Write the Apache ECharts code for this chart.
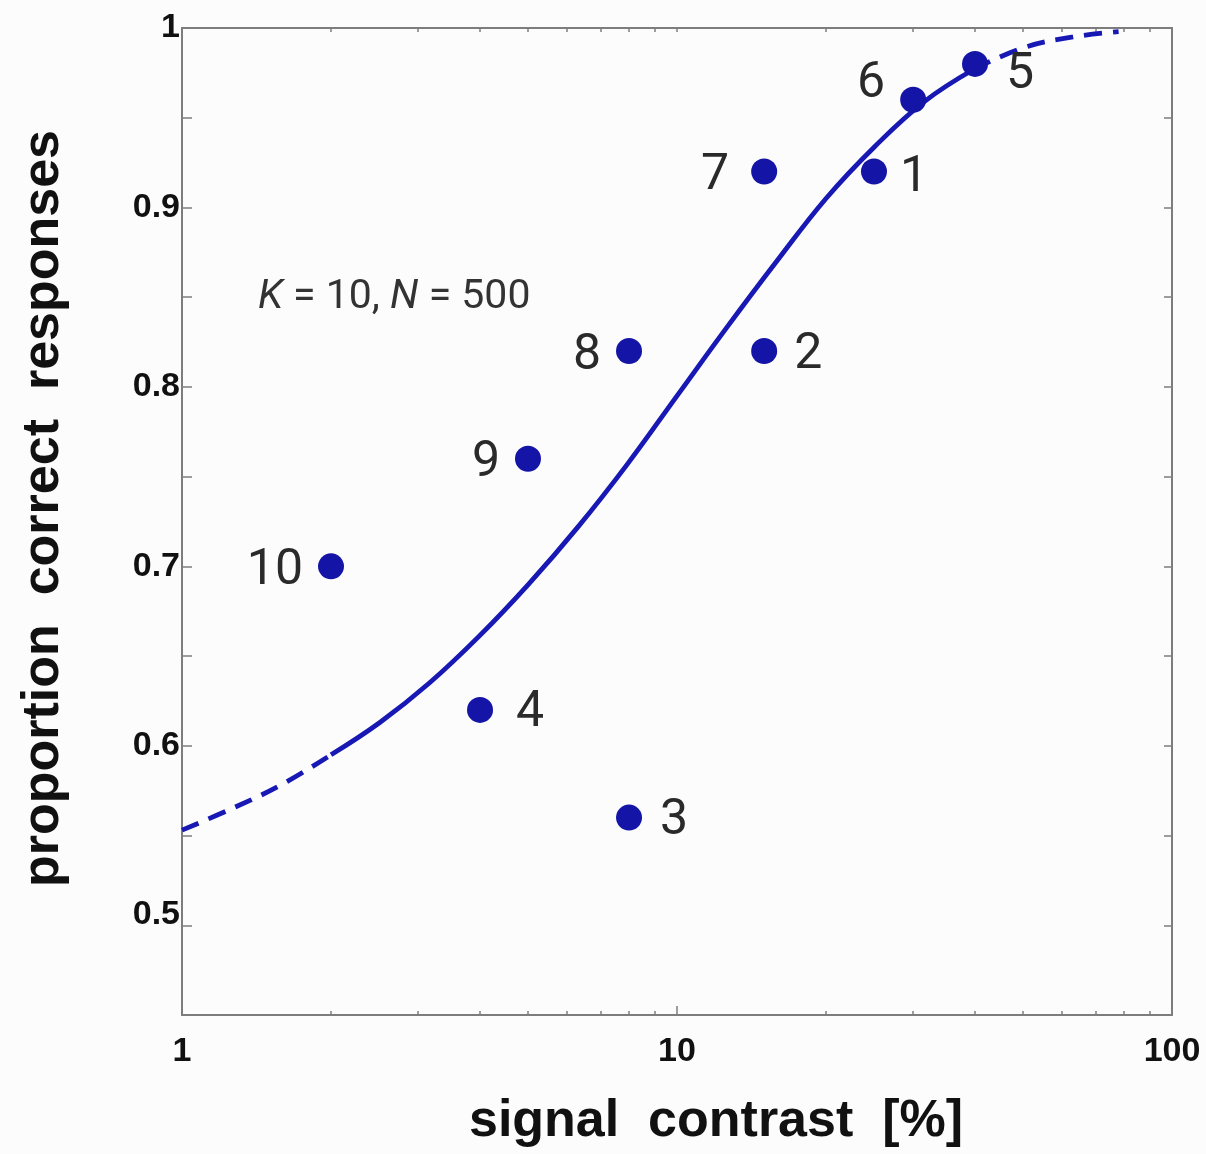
<!DOCTYPE html>
<html>
<head>
<meta charset="utf-8">
<title>Proportion correct vs signal contrast</title>
<script src="https://cdn.jsdelivr.net/npm/echarts@6/dist/echarts.min.js"></script>
<style>
  html, body { margin: 0; padding: 0; background: #fcfcfc; }
  #chart { width: 1206px; height: 1154px; }
</style>
</head>
<body>
<div id="chart"></div>
<script>
// Observed blocks: signal contrast [%] and proportion of correct responses
const blockIds   = ['1', '2', '3', '4', '5', '6', '7', '8', '9', '10'];
const contrast   = [25, 15, 8, 4, 40, 30, 15, 8, 5, 2];
const pCorrect   = [0.92, 0.82, 0.56, 0.62, 0.98, 0.96, 0.92, 0.82, 0.76, 0.70];

// Fitted psychometric curve, sampled at even steps along the log contrast axis
const fitContrast = [1, 1.26, 1.58, 2, 2.51, 3.16, 3.98, 5.01, 6.31, 7.94, 10,
                     12.6, 15.8, 20, 25.1, 31.6, 39.8, 50.1, 63.1, 78];
const fitP        = [0.553, 0.565, 0.578, 0.595, 0.613, 0.635, 0.661, 0.690, 0.722, 0.757, 0.795,
                     0.833, 0.869, 0.905, 0.934, 0.959, 0.977, 0.989, 0.995, 0.998];
// Range covered by the measured blocks (solid); outside it the fit is dashed
const fitSolidFrom = 2;
const fitSolidTo   = 39.8;

// Axis ticks and labels
const xMajorTicks = [1, 10, 100];
const xMinorTicks = [2, 3, 4, 5, 6, 7, 8, 9, 20, 30, 40, 50, 60, 70, 80, 90];
const yMin = 0.45, yMax = 1, yStep = 0.05;

const fitPairs = fitContrast.map((c, i) => [c, fitP[i]]);
const lowFit   = fitPairs.filter(p => p[0] <= fitSolidFrom);
const midFit   = fitPairs.filter(p => p[0] >= fitSolidFrom && p[0] <= fitSolidTo);
const highFit  = fitPairs.filter(p => p[0] >= fitSolidTo);

// Label placement for each block number
const labelPlace = {
  '1': { position: 'right', offset: [-2, 7] },
  '2': { position: 'right', offset: [2, 4] },
  '3': { position: 'right', offset: [3, 4] },
  '4': { position: 'right', offset: [8, 4] },
  '5': { position: 'right', offset: [3, 12] },
  '6': { position: 'left', offset: [0, -15] },
  '7': { position: 'left', offset: [-7, 5] },
  '8': { position: 'left', offset: [0, 5] },
  '9': { position: 'left', offset: [0, 5] },
  '10': { position: 'left', offset: [0, 5] }
};

const blockPoints = blockIds.map((id, i) => ({
  value: [contrast[i], pCorrect[i]],
  name: id,
  label: labelPlace[id]
}));

const FRAME = '#7d7d7d';
const CURVE = '#1818b4';
const DOT = '#1414a6';
const BOLD = '"Liberation Sans", Arial, sans-serif';

const chart = echarts.init(document.getElementById('chart'), null, { renderer: 'canvas' });

const fitLine = (data, dashed) => ({
  type: 'line',
  data: data,
  smooth: 0.4,
  showSymbol: false,
  symbol: 'none',
  silent: true,
  z: 2,
  lineStyle: { color: CURVE, width: 4.8, type: dashed ? [18, 11] : 'solid', cap: 'butt' }
});

chart.setOption({
  backgroundColor: '#fcfcfc',
  animation: false,
  grid: { left: 182, right: 34, top: 28, bottom: 139, containLabel: false, outerBoundsMode: 'none' },
  xAxis: [
    {
      type: 'log', logBase: 10, min: 1, max: 100, position: 'bottom',
      name: 'signal  contrast  [%]', nameLocation: 'middle', nameGap: 81,
      nameTextStyle: { fontFamily: BOLD, fontWeight: 'bold', fontSize: 52, color: '#111',
                       padding: [0, 0, 0, 78] },
      axisLine: { show: true, lineStyle: { color: FRAME, width: 2 } },
      axisTick: { show: true, inside: true, length: 9, customValues: xMajorTicks,
                  lineStyle: { color: FRAME, width: 1.5 } },
      axisLabel: { show: true, customValues: xMajorTicks, margin: 20,
                   fontFamily: BOLD, fontWeight: 'bold', fontSize: 34, color: '#111',
                   formatter: v => String(v) },
      splitLine: { show: false }, minorTick: { show: false }
    },
    {
      type: 'log', logBase: 10, min: 1, max: 100, position: 'bottom',
      axisLine: { show: false },
      axisTick: { show: true, inside: true, length: 4, customValues: xMinorTicks,
                  lineStyle: { color: FRAME, width: 1.5 } },
      axisLabel: { show: false }, splitLine: { show: false }
    },
    {
      type: 'log', logBase: 10, min: 1, max: 100, position: 'top',
      axisLine: { show: true, lineStyle: { color: FRAME, width: 2 } },
      axisTick: { show: true, inside: true, length: 4, customValues: xMinorTicks.concat([10]),
                  lineStyle: { color: FRAME, width: 1.5 } },
      axisLabel: { show: false }, splitLine: { show: false }
    }
  ],
  yAxis: [
    {
      type: 'value', min: yMin, max: yMax, interval: yStep, position: 'left',
      name: 'proportion  correct  responses', nameLocation: 'middle', nameGap: 112,
      nameTextStyle: { fontFamily: BOLD, fontWeight: 'bold', fontSize: 52, color: '#111',
                       padding: [0, 0, 0, 26] },
      axisLine: { show: true, lineStyle: { color: FRAME, width: 2 } },
      axisTick: { show: true, inside: true, length: 10, lineStyle: { color: FRAME, width: 1.5 } },
      axisLabel: {
        show: true, margin: 2, showMinLabel: true, showMaxLabel: true,
        fontFamily: BOLD, fontWeight: 'bold', fontSize: 34, color: '#111',
        formatter: v => {
          const tenth = Math.round(v * 10);
          if (Math.abs(v * 10 - tenth) > 1e-6) return '';
          if (tenth === 10) return '1';
          if (tenth === 5) return '{lift|0.5}';
          return (tenth / 10).toFixed(1);
        },
        rich: {
          lift: { fontFamily: BOLD, fontWeight: 'bold', fontSize: 34, color: '#111',
                  padding: [0, 0, 22, 0] }
        }
      },
      splitLine: { show: false }
    },
    {
      type: 'value', min: yMin, max: yMax, interval: yStep, position: 'right',
      axisLine: { show: true, lineStyle: { color: FRAME, width: 2 } },
      axisTick: { show: true, inside: true, length: 8, lineStyle: { color: FRAME, width: 1.5 } },
      axisLabel: { show: false }, splitLine: { show: false }
    }
  ],
  graphic: [
    {
      type: 'text', left: 258, top: 277, silent: true,
      style: {
        text: '{i|K} = 10, {i|N} = 500',
        fill: '#333', fontFamily: 'Roboto, sans-serif', fontSize: 41,
        rich: { i: { fontStyle: 'italic', fontFamily: 'Roboto, sans-serif', fontSize: 41, fill: '#333' } }
      }
    }
  ],
  series: [
    fitLine(lowFit, true),
    fitLine(midFit, false),
    fitLine(highFit, true),
    {
      type: 'scatter',
      data: blockPoints,
      symbol: 'circle',
      symbolSize: 26,
      z: 3,
      itemStyle: { color: DOT, opacity: 1 },
      label: {
        show: true, distance: 15,
        formatter: p => p.name,
        fontFamily: 'Roboto, sans-serif', fontSize: 50, color: '#2a2a2a'
      }
    }
  ]
});
</script>
</body>
</html>
